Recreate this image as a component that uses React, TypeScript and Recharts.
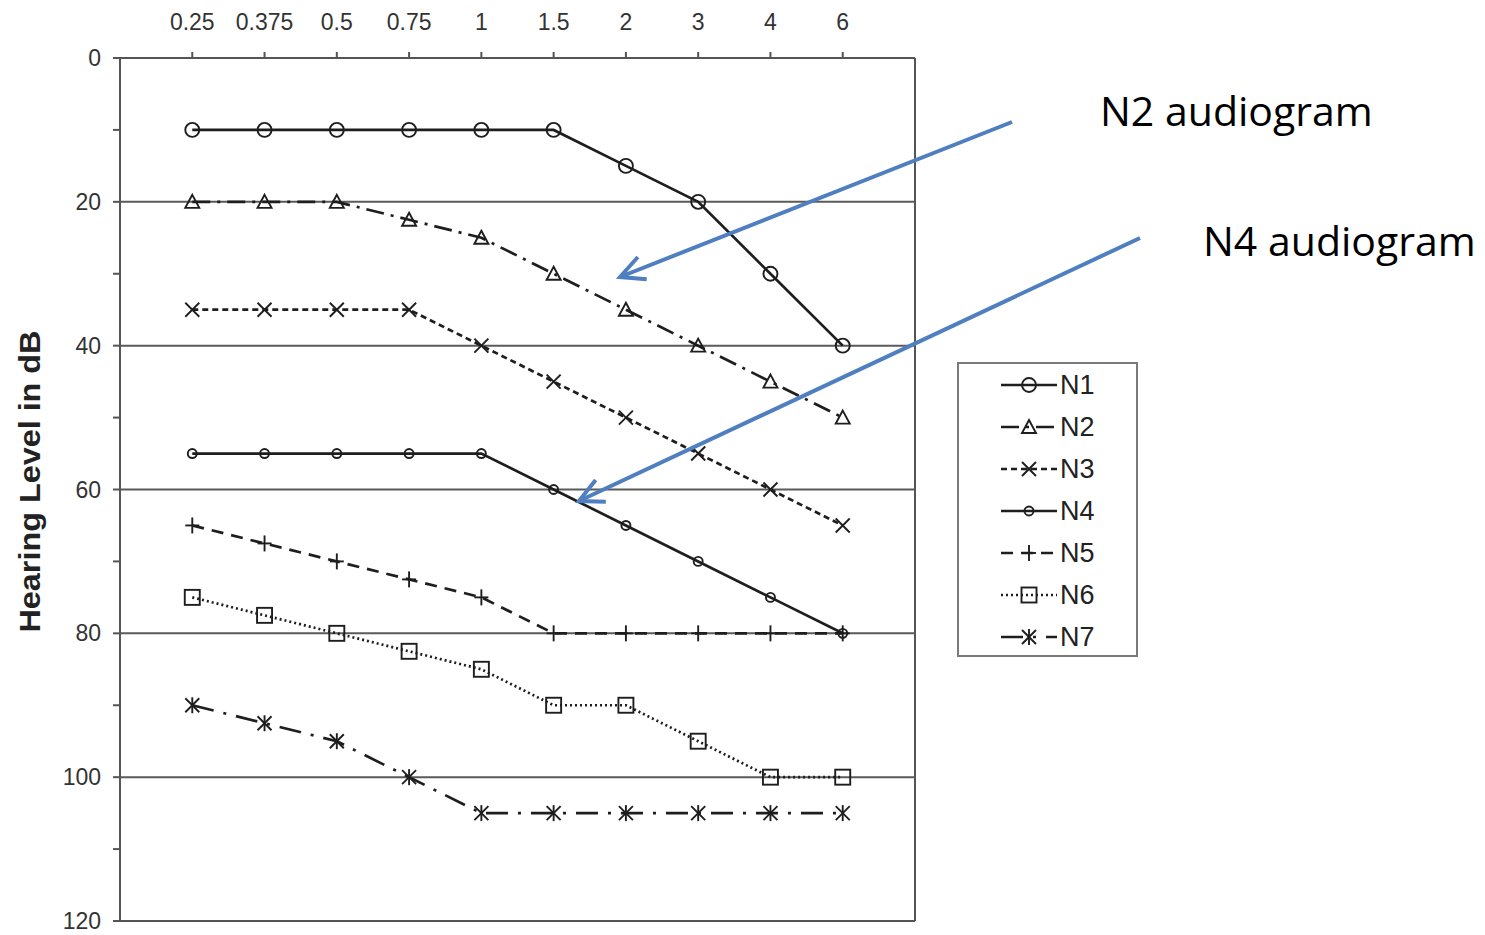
import React from 'react';
import { LineChart, Line, XAxis, YAxis, CartesianGrid, ReferenceLine } from 'recharts';

// frequencies in kHz, shown on the top axis
const freqLabels = ['0.25', '0.375', '0.5', '0.75', '1', '1.5', '2', '3', '4', '6'];

// hearing level in dB per listener
const n1 = [10, 10, 10, 10, 10, 10, 15, 20, 30, 40];
const n2 = [20, 20, 20, 22.5, 25, 30, 35, 40, 45, 50];
const n3 = [35, 35, 35, 35, 40, 45, 50, 55, 60, 65];
const n4 = [55, 55, 55, 55, 55, 60, 65, 70, 75, 80];
const n5 = [65, 67.5, 70, 72.5, 75, 80, 80, 80, 80, 80];
const n6 = [75, 77.5, 80, 82.5, 85, 90, 90, 95, 100, 100];
const n7 = [90, 92.5, 95, 100, 105, 105, 105, 105, 105, 105];

const yTicks = [0, 10, 20, 30, 40, 50, 60, 70, 80, 90, 100, 110, 120];
const gridValues = [20, 40, 60, 80, 100];

type Shape = 'circle' | 'triangle' | 'cross' | 'diamond' | 'plus' | 'square' | 'star';

const series: { name: string; values: number[]; dash: string; shape: Shape }[] = [
  { name: 'N1', values: n1, dash: '', shape: 'circle' },
  { name: 'N2', values: n2, dash: '18 7 3 7', shape: 'triangle' },
  { name: 'N3', values: n3, dash: '6 4', shape: 'cross' },
  { name: 'N4', values: n4, dash: '', shape: 'diamond' },
  { name: 'N5', values: n5, dash: '12 8', shape: 'plus' },
  { name: 'N6', values: n6, dash: '2 3', shape: 'square' },
  { name: 'N7', values: n7, dash: '22 10 3 10', shape: 'star' },
];

const data = freqLabels.map((f, i) => {
  const row: Record<string, number | string> = { pos: i + 1, freq: f };
  series.forEach((s) => {
    row[s.name] = s.values[i];
  });
  return row;
});

const INK = '#1e1e1e';
const AXIS = '#555';
const FONT = '"Liberation Sans", Arial, sans-serif';

function Marker({ shape, cx, cy }: { shape: Shape; cx: number; cy: number }) {
  const common = { stroke: INK, strokeWidth: 1.9, fill: 'none' };
  switch (shape) {
    case 'circle':
      return <circle cx={cx} cy={cy} r={7} {...common} />;
    case 'triangle':
      return <path d={`M${cx},${cy - 7} L${cx + 7},${cy + 6} L${cx - 7},${cy + 6} Z`} {...common} />;
    case 'cross':
      return (
        <g {...common}>
          <line x1={cx - 7} y1={cy - 7} x2={cx + 7} y2={cy + 7} />
          <line x1={cx - 7} y1={cy + 7} x2={cx + 7} y2={cy - 7} />
        </g>
      );
    case 'diamond':
      return <circle cx={cx} cy={cy} r={4.5} {...common} />;
    case 'plus':
      return (
        <g {...common}>
          <line x1={cx - 7} y1={cy} x2={cx + 7} y2={cy} />
          <line x1={cx} y1={cy - 8} x2={cx} y2={cy + 8} />
        </g>
      );
    case 'square':
      return <rect x={cx - 7.5} y={cy - 7.5} width={15} height={15} {...common} />;
    case 'star':
      return (
        <g {...common}>
          <line x1={cx - 7} y1={cy - 7} x2={cx + 7} y2={cy + 7} />
          <line x1={cx - 7} y1={cy + 7} x2={cx + 7} y2={cy - 7} />
          <line x1={cx} y1={cy - 8} x2={cx} y2={cy + 8} />
        </g>
      );
  }
  return null;
}

const YLabel = ({ viewBox }: any) => {
  const x = viewBox.x + 29;
  const y = viewBox.y + viewBox.height / 2 - 8;
  return (
    <text
      x={x}
      y={y}
      transform={`rotate(-90 ${x} ${y})`}
      textAnchor="middle"
      dominantBaseline="central"
      fontFamily={FONT}
      fontWeight="bold"
      fontSize={30}
      textLength={302}
      lengthAdjust="spacingAndGlyphs"
      fill="#222"
    >
      Hearing Level in dB
    </text>
  );
};

const LegendBox = () => (
  <div
    style={{
      position: 'absolute',
      left: 957,
      top: 362,
      width: 181,
      height: 295,
      border: '2px solid #7a7a7a',
      boxSizing: 'border-box',
      background: '#fff',
    }}
  >
    <svg width={177} height={291}>
      {series.map((s, i) => {
        const y = 21 + i * 42;
        return (
          <g key={s.name}>
            <line x1={42} x2={98} y1={y} y2={y} stroke={INK} strokeWidth={2.4} strokeDasharray={s.dash || undefined} />
            <Marker shape={s.shape} cx={70} cy={y} />
            <text x={101} y={y} dominantBaseline="central" fontFamily={FONT} fontSize={27} fill="#222">
              {s.name}
            </text>
          </g>
        );
      })}
    </svg>
  </div>
);

const arrows = [
  { label: 'N2 audiogram', from: [1012, 122], to: [620, 277], text: [1100, 110] },
  { label: 'N4 audiogram', from: [1140, 238], to: [579, 501], text: [1203, 240] },
];

const Annotations = () => (
  <svg width={1485} height={935} style={{ position: 'absolute', left: 0, top: 0, pointerEvents: 'none' }}>
    <defs>
      <marker id="arrowHead" markerWidth={8} markerHeight={8} refX={7} refY={4} orient="auto" markerUnits="strokeWidth">
        <path d="M1,1 L7,4 L1,7" fill="none" stroke="#4f7fc0" strokeWidth={1} />
      </marker>
    </defs>
    {arrows.map((a) => (
      <g key={a.label}>
        <line
          x1={a.from[0]}
          y1={a.from[1]}
          x2={a.to[0]}
          y2={a.to[1]}
          stroke="#4f7fc0"
          strokeWidth={4}
          markerEnd="url(#arrowHead)"
        />
        <text
          x={a.text[0]}
          y={a.text[1]}
          dominantBaseline="central"
          fontFamily='"Open Sans", sans-serif'
          fontSize={41}
          fill="#000"
        >
          {a.label}
        </text>
      </g>
    ))}
  </svg>
);

export default function App() {
  return (
    <div style={{ position: 'absolute', left: 0, top: 0, width: 1485, height: 935, background: '#fff' }}>
      <LineChart width={1485} height={935} data={data} margin={{ top: 8, right: 570, bottom: 14, left: 0 }}>
        <CartesianGrid horizontal vertical={false} horizontalValues={gridValues} stroke="#5a5a5a" strokeWidth={2} />
        <XAxis
          dataKey="pos"
          type="number"
          orientation="top"
          domain={[0, 11]}
          ticks={[1, 2, 3, 4, 5, 6, 7, 8, 9, 10]}
          tickFormatter={(v: number) => freqLabels[v - 1] ?? ''}
          height={50}
          stroke={AXIS}
          strokeWidth={2}
          tickSize={6}
          tickMargin={22}
          tick={{ fontSize: 23, fill: '#333', fontFamily: FONT }}
          allowDataOverflow
        />
        <YAxis
          type="number"
          domain={[0, 120]}
          reversed
          ticks={yTicks}
          interval={0}
          tickFormatter={(v: number) => (v % 20 === 0 ? String(v) : '')}
          width={120}
          stroke={AXIS}
          strokeWidth={2}
          tickSize={7}
          tickMargin={12}
          tick={{ fontSize: 23, fill: '#333', fontFamily: FONT }}
          label={<YLabel />}
        />
        <ReferenceLine y={120} stroke={AXIS} strokeWidth={2} />
        <ReferenceLine x={11} stroke={AXIS} strokeWidth={2} />
        {series.map((s) => (
          <Line
            key={s.name}
            dataKey={s.name}
            stroke={INK}
            strokeWidth={2.7}
            strokeDasharray={s.dash || undefined}
            isAnimationActive={false}
            dot={(p: any) => <Marker key={`${s.name}-${p.index}`} shape={s.shape} cx={p.cx} cy={p.cy} />}
            activeDot={false}
          />
        ))}
      </LineChart>
      <LegendBox />
      <Annotations />
    </div>
  );
}
